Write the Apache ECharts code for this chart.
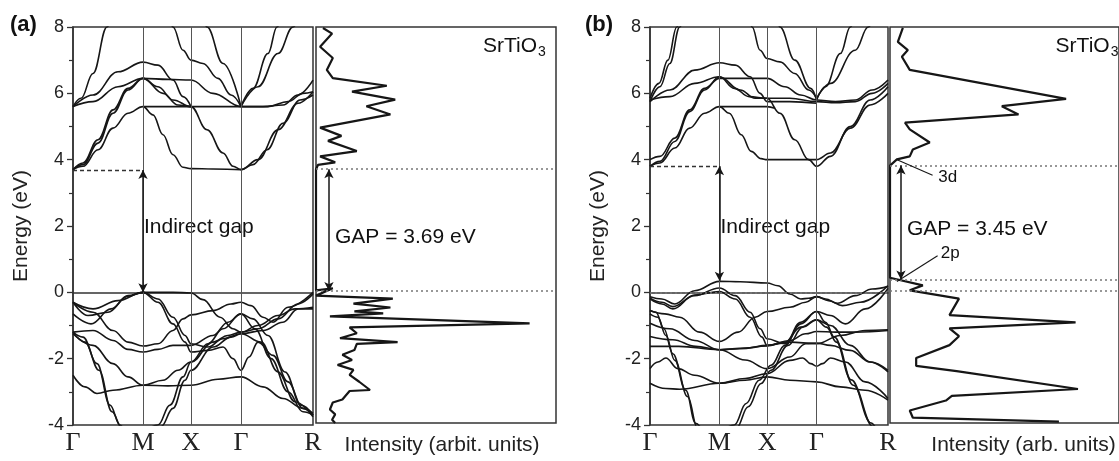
<!DOCTYPE html>
<html>
<head>
<meta charset="utf-8">
<script src="https://cdn.jsdelivr.net/npm/echarts@6/dist/echarts.min.js"></script>
<style>
  html, body { margin: 0; padding: 0; background: #ffffff; }
  #chart { width: 1119px; height: 461px; }
</style>
</head>
<body>
<div id="chart"></div>
<script>
// k-path positions of the high-symmetry points and their labels
const kPoints = [0, 70, 118, 168, 240];
const kLabels = ['Γ', 'M', 'X', 'Γ', 'R'];
const energyMin = -4, energyMax = 8, energyStep = 2;

// band edges (eV)
const vbmA = 0.00, cbmA = 3.69;
const vbmB = 0.35, cbmB = 3.80;

// (a) conduction bands: [k, E]
const bandsACond = [
  [[0,3.7],[10,3.8],[25,4.3],[40,4.95],[55,5.4],[70,5.6],[80,5.35],[90,4.75],[100,4.15],[110,3.77],[118,3.73],[140,3.72],[168,3.7],[180,3.85],[194,4.3],[210,5.1],[227,5.8],[240,5.95]],
  [[0,3.7],[10,3.85],[25,4.5],[40,5.4],[55,6.1],[70,6.45],[85,6.2],[100,5.8],[118,5.6],[134,4.9],[150,4.2],[160,3.8],[168,3.7],[185,4.0],[205,4.9],[225,5.7],[240,6.05]],
  [[0,3.7],[10,3.9],[25,4.6],[40,5.5],[55,6.15],[70,6.45],[95,6.42],[118,6.4],[140,6.0],[168,5.6],[190,5.6],[210,5.65],[225,5.95],[240,6.4]],
  [[0,5.6],[20,5.75],[45,6.2],[70,6.45],[90,6.0],[105,5.65],[118,5.6],[140,5.6],[168,5.6],[195,5.6],[215,5.75],[230,6.0],[240,6.05]],
  [[0,5.6],[20,5.95],[45,6.65],[70,6.94],[85,6.85],[100,6.4],[110,5.9],[118,5.6]],
  [[70,5.6],[95,5.6],[118,5.6]],
  [[0,5.6],[8,5.85],[20,6.6],[34,8.0],[40,8.5]],
  [[95,8.5],[100,8.0],[110,7.3],[118,7.0],[130,6.9],[145,6.45],[158,5.95],[168,5.6]],
  [[130,8.3],[134,8.0],[150,6.9],[168,5.6]],
  [[168,5.6],[180,6.15],[195,7.2],[204,8.0],[210,8.5]],
  [[168,5.6],[185,6.2],[205,7.2],[220,8.0],[228,8.5]]
];

// (a) valence bands: [k, E]
const bandsAVal = [
  [[0,-0.3],[20,-0.5],[45,-0.25],[70,0],[100,0],[118,-0.02],[130,-0.22],[147,-0.75],[160,-1.1],[168,-1.2],[185,-1.0],[205,-0.7],[222,-0.5],[240,-0.45]],
  [[0,-0.65],[18,-0.95],[38,-0.5],[55,-0.1],[70,0],[85,-0.2],[100,-0.75],[112,-1.3],[118,-1.55],[135,-1.65],[150,-1.4],[168,-1.25],[190,-1.15],[210,-0.9],[225,-0.5],[240,-0.5]],
  [[0,-0.3],[15,-0.7],[35,-0.6],[55,-0.12],[70,0],[85,-0.3],[100,-0.95],[112,-1.5],[118,-1.8],[135,-1.75],[150,-1.65],[160,-2.0],[168,-2.35],[176,-1.95],[185,-1.5],[200,-1.9],[215,-2.7],[230,-3.5],[240,-3.7]],
  [[0,-0.3],[20,-0.6],[40,-1.15],[55,-1.5],[70,-1.62],[85,-1.55],[100,-1.15],[110,-0.8],[118,-0.68],[140,-0.55],[158,-0.35],[168,-0.3],[178,-0.4],[190,-0.75],[200,-0.9],[215,-0.45],[240,0]],
  [[0,-1.2],[20,-1.15],[40,-1.45],[55,-1.72],[70,-1.8],[85,-1.72],[100,-1.6],[118,-1.6],[140,-1.3],[155,-0.9],[168,-0.65],[180,-0.8],[195,-1.3],[212,-2.4],[228,-3.4],[240,-3.7]],
  [[0,-1.2],[10,-1.35],[24,-2.15],[37,-3.4],[47,-4.0],[58,-4.5],[85,-4.0],[97,-3.4],[110,-2.55],[118,-2.1],[135,-1.55],[150,-1.1],[168,-0.65],[182,-1.1],[198,-2.0],[215,-3.0],[230,-3.6],[240,-3.7]],
  [[0,-1.2],[12,-1.5],[26,-2.35],[39,-3.6],[49,-4.1],[60,-4.6],[88,-4.05],[100,-3.5],[112,-2.65],[118,-2.35],[140,-1.65],[158,-1.35],[168,-1.25],[188,-1.5],[205,-2.4],[222,-3.3],[240,-3.75]],
  [[0,-2.5],[12,-2.85],[24,-3.05],[40,-2.95],[70,-2.8],[95,-2.82],[118,-2.8],[145,-2.62],[168,-2.55],[190,-2.85],[210,-3.2],[230,-3.5],[240,-3.65]],
  [[0,-1.25],[20,-1.6],[40,-2.15],[55,-2.55],[70,-2.8],[90,-2.65],[105,-2.35],[118,-2.1],[140,-1.5],[155,-1.3],[168,-1.2],[185,-1.1],[205,-0.8],[225,-0.35],[240,-0.05]]
];

// (b) conduction bands: [k, E]
const bandsBCond = [
  [[0,3.8],[10,3.9],[25,4.35],[40,4.95],[55,5.4],[70,5.6],[80,5.4],[92,4.75],[102,4.25],[112,4.03],[118,4.0],[140,4.0],[168,4.0],[182,4.2],[202,4.95],[222,5.65],[240,6.0]],
  [[0,3.8],[10,3.95],[25,4.55],[40,5.45],[55,6.1],[70,6.5],[85,6.15],[100,5.9],[118,5.85],[131,5.4],[146,4.6],[160,4.0],[168,3.8],[182,4.1],[202,5.0],[222,5.8],[240,6.2]],
  [[0,4.0],[10,4.1],[25,4.65],[40,5.5],[55,6.15],[70,6.45],[91,6.45],[118,6.45],[136,6.2],[152,5.95],[168,5.8],[187,5.75],[207,5.8],[224,6.1],[240,6.4]],
  [[0,5.8],[20,5.9],[45,6.3],[70,6.5],[91,6.1],[106,5.85],[118,5.85],[141,5.85],[168,5.75],[187,5.72],[207,5.75],[224,6.0],[240,6.3]],
  [[0,5.75],[20,6.1],[45,6.7],[70,6.92],[86,6.85],[101,6.5],[111,6.0],[118,5.75],[141,5.75],[168,5.7]],
  [[70,5.6],[96,5.6],[118,5.6],[126,5.55]],
  [[0,5.75],[10,6.2],[20,6.9],[30,8.0],[36,8.6]],
  [[0,5.85],[9,6.3],[18,7.0],[27,8.0],[33,8.6]],
  [[98,8.6],[103,8.0],[111,7.3],[118,7.05],[131,6.95],[146,6.6],[160,6.1],[168,5.85]],
  [[126,8.6],[131,8.0],[146,7.0],[162,6.15],[168,5.8]],
  [[168,5.8],[177,6.2],[192,7.2],[202,8.0],[208,8.5]],
  [[168,5.85],[182,6.3],[207,7.3],[220,8.0],[228,8.5]]
];

// (b) valence bands: [k, E]
const bandsBVal = [
  [[0,-0.13],[12,-0.2],[25,-0.35],[45,0.05],[70,0.33],[91,0.32],[118,0.28],[129,0.2],[141,-0.05],[152,-0.2],[160,-0.18],[168,-0.13],[177,-0.2],[189,-0.33],[207,-0.1],[224,0.1],[240,0.18]],
  [[0,-0.18],[12,-0.3],[23,-0.43],[45,-0.1],[70,0.13],[86,-0.1],[101,-0.6],[111,-1.1],[118,-1.4],[136,-1.55],[152,-0.9],[168,-0.58],[182,-0.7],[197,-0.95],[217,-0.5],[240,0.12]],
  [[0,-0.2],[12,-0.35],[23,-0.5],[45,-0.08],[70,0.02],[86,-0.2],[101,-0.75],[113,-1.35],[118,-1.6],[141,-1.5],[168,-1.55],[192,-1.3],[217,-1.15],[240,-1.13]],
  [[0,-0.55],[15,-0.65],[30,-0.75],[50,-1.2],[70,-1.48],[89,-1.2],[106,-0.75],[118,-0.58],[141,-0.45],[157,-0.3],[168,-0.13],[180,-0.25],[194,-0.4],[212,-0.3],[240,0.2]],
  [[0,-0.93],[20,-1.1],[45,-1.45],[70,-1.73],[91,-1.7],[118,-1.62],[136,-1.5],[152,-1.05],[168,-0.83],[182,-1.0],[202,-1.6],[222,-2.1],[240,-2.35]],
  [[0,-1.33],[23,-1.43],[46,-1.63],[70,-1.73],[96,-1.68],[118,-1.6],[141,-1.45],[157,-1.25],[168,-1.18],[187,-1.2],[207,-1.2],[240,-1.15]],
  [[0,-1.63],[29,-1.63],[70,-1.73],[96,-2.04],[118,-2.3],[141,-1.95],[157,-1.55],[168,-1.53],[182,-1.6],[202,-1.75],[222,-2.1],[240,-2.4]],
  [[0,-0.55],[6,-0.6],[14,-1.1],[23,-1.85],[36,-2.95],[46,-3.95],[60,-4.4],[85,-4.0],[97,-3.35],[110,-2.65],[122,-2.2],[136,-1.6],[152,-0.95],[168,-0.58],[177,-0.9],[186,-1.35],[203,-2.64],[223,-3.94],[232,-4.4]],
  [[0,-0.65],[8,-0.75],[16,-1.3],[25,-2.05],[38,-3.15],[48,-4.1],[62,-4.5],[87,-4.1],[99,-3.45],[112,-2.75],[122,-2.35],[139,-1.6],[154,-1.05],[168,-0.83],[178,-1.05],[188,-1.5],[205,-2.8],[225,-4.05],[232,-4.4]],
  [[0,-2.3],[8,-2.1],[16,-1.98],[28,-2.3],[45,-2.5],[70,-2.74],[96,-2.6],[118,-2.45],[141,-2.05],[154,-1.98],[162,-2.15],[168,-2.23],[174,-2.15],[182,-1.98],[197,-2.1],[217,-2.7],[240,-3.2]],
  [[0,-2.74],[16,-2.9],[30,-2.92],[70,-2.74],[96,-2.65],[118,-2.55],[141,-2.65],[168,-2.7],[192,-2.85],[217,-2.95],[240,-3.25]]
];

// density of states: energy (eV) and intensity (arb. units)
const dosAEnergy = [7.97,7.8,7.4,7.06,6.7,6.45,6.22,6.04,5.8,5.6,5.35,4.95,4.7,4.55,4.24,4.08,4.03,3.9,3.82,3.69,0.02,0.08,-0.14,-0.23,-0.38,-0.5,-0.62,-0.68,-0.77,-0.98,-1.1,-1.28,-1.43,-1.55,-1.6,-1.79,-1.93,-2.09,-2.24,-2.39,-2.54,-2.75,-3.0,-3.03,-3.29,-3.38,-3.59,-3.74,-3.9,-4.0];
const dosAIntensity = [2.9,6.7,1.7,7,4.5,7,29.5,15,33,21,31,1.7,10.6,5,17,1.7,1,8,0.8,0,0,7,0,32,15.6,31,16,28,5.8,89,14,17,10,34,17,16,11,15,9,15.6,14,18,22.5,14,11,7,5.8,8,6.7,8];
const dosBEnergy = [7.97,7.55,7.3,7.1,6.7,5.82,5.6,5.35,5.1,4.9,4.5,4.29,4.08,3.99,3.8,0.4,0.17,0.02,-0.23,-0.73,-0.95,-1.13,-1.37,-1.64,-2.03,-2.27,-2.43,-2.97,-3.18,-3.32,-3.62,-3.84,-3.96];
const dosBIntensity = [5.4,3.3,7.5,5,8.3,74,47,54,6.3,8.3,16.7,9.6,8.3,2.9,0,0,13.8,8.3,29,25,78,25,29,25,11,11,28,79,26,23.5,8.3,9.6,71];

const FONT = 'Liberation Sans, Arial, sans-serif';
const INK = '#161616';
const TEXT = '#111111';

const zip = (xs, ys) => xs.map((x, i) => [x, ys[i]]);
const gapA = +(cbmA - vbmA).toFixed(2);
const gapB = +(cbmB - vbmB).toFixed(2);

function bandAxes(gridIndex) {
  return {
    x: {
      type: 'value', gridIndex, min: kPoints[0], max: kPoints[kPoints.length - 1],
      axisLine: { show: true, lineStyle: { color: '#333', width: 1.5 } },
      axisTick: { show: false },
      splitLine: { show: false },
      axisLabel: {
        customValues: kPoints,
        formatter: v => kLabels[kPoints.indexOf(v)] || '',
        fontFamily: 'Liberation Serif, Times New Roman, serif', fontSize: 26, color: '#222', margin: 5
      }
    },
    y: {
      type: 'value', gridIndex, min: energyMin, max: energyMax, interval: energyStep,
      name: 'Energy (eV)', nameLocation: 'middle', nameGap: 41,
      nameTextStyle: { fontFamily: FONT, fontSize: 21, color: '#222' },
      axisLine: { show: true, lineStyle: { color: '#333', width: 1.5 } },
      axisTick: { show: true, length: 6, lineStyle: { color: '#333', width: 1.3 } },
      minorTick: { show: true, splitNumber: 2, length: 4, lineStyle: { color: '#333', width: 1.2 } },
      splitLine: { show: false },
      axisLabel: { fontFamily: FONT, fontSize: 18, color: '#222', margin: 9 }
    }
  };
}

function dosAxes(gridIndex, xMax, label, shift) {
  return {
    x: {
      type: 'value', gridIndex, min: 0, max: xMax,
      axisLine: { show: false }, axisTick: { show: false }, axisLabel: { show: false }, splitLine: { show: false },
      name: label, nameLocation: 'middle', nameGap: 12,
      nameTextStyle: { fontFamily: FONT, fontSize: 21, color: '#222', padding: [0, 0, 0, shift] }
    },
    y: {
      type: 'value', gridIndex, min: energyMin, max: energyMax,
      axisLine: { show: false }, axisTick: { show: false }, axisLabel: { show: false }, splitLine: { show: false }
    }
  };
}

// both density panels share 2.4 px per intensity unit
const axA = bandAxes(0), dA = dosAxes(1, 100, 'Intensity (arbit. units)', 12);
const axB = bandAxes(2), dB = dosAxes(3, 96.25, 'Intensity (arb. units)', 38);

const series = [];

function addBands(bands, axisIndex) {
  bands.forEach(b => series.push({
    type: 'line', xAxisIndex: axisIndex, yAxisIndex: axisIndex, data: b,
    smooth: 0.4, smoothMonotone: 'x', symbol: 'none', silent: true, clip: true,
    lineStyle: { color: INK, width: 1.6 }, z: 3
  }));
}

function textSeries(axisIndex, points, fmt, fontSize, rich) {
  return {
    type: 'scatter', xAxisIndex: axisIndex, yAxisIndex: axisIndex, symbolSize: 0, silent: true, clip: false,
    itemStyle: { opacity: 1 }, data: points,
    label: { show: true, position: 'right', distance: 0, fontFamily: FONT, fontSize, color: TEXT, opacity: 1,
      formatter: fmt, rich: rich || {} }
  };
}

function symmetryLines(axisIndex, vbm, cbm, zeroDotted) {
  const lines = kPoints.slice(1, -1).map(k => ({ xAxis: k, lineStyle: { color: '#555', width: 1, type: 'solid' } }));
  const extra = [
    [{ coord: [kPoints[0], cbm], lineStyle: { color: '#333', width: 1.3, type: [4, 3] } }, { coord: [kPoints[1], cbm] }]
  ];
  if (zeroDotted) lines.push({ yAxis: 0, lineStyle: { color: '#777', width: 1.5, type: [2, 3] } });
  series.push({
    type: 'line', xAxisIndex: axisIndex, yAxisIndex: axisIndex, data: [], silent: true, z: 2,
    markLine: { silent: true, symbol: 'none', label: { show: false }, animation: false, data: lines.concat(extra) }
  });
  // indirect-gap arrow at M
  series.push({
    type: 'line', xAxisIndex: axisIndex, yAxisIndex: axisIndex, data: [], silent: true, z: 4,
    markLine: {
      silent: true, symbol: ['arrow', 'arrow'], symbolSize: [7, 9], label: { show: false }, animation: false,
      lineStyle: { color: INK, width: 1.5, type: 'solid' },
      data: [[{ coord: [kPoints[1], vbm] }, { coord: [kPoints[1], cbm] }]]
    }
  });
  series.push(textSeries(axisIndex, [[kPoints[1] + 1, 1.95]], 'Indirect gap', 21));
}

function dosPanel(axisIndex, energy, intensity, vbm, cbm, gap, arrowX, extraLevels) {
  const levels = [cbm, vbm].concat(extraLevels).map(e => ({ yAxis: e }));
  series.push({
    type: 'line', xAxisIndex: axisIndex, yAxisIndex: axisIndex, data: zip(intensity, energy),
    symbol: 'none', silent: true, clip: true, lineStyle: { color: INK, width: 2.2 }, z: 3,
    markLine: {
      silent: true, symbol: 'none', label: { show: false }, animation: false,
      lineStyle: { color: '#777', width: 1.5, type: [2, 3] }, data: levels
    }
  });
  series.push({
    type: 'line', xAxisIndex: axisIndex, yAxisIndex: axisIndex, data: [], silent: true, z: 4,
    markLine: {
      silent: true, symbol: ['arrow', 'arrow'], symbolSize: [7, 9], label: { show: false }, animation: false,
      lineStyle: { color: INK, width: 1.5, type: 'solid' },
      data: [[{ coord: [arrowX, vbm] }, { coord: [arrowX, cbm] }]]
    }
  });
  series.push(textSeries(axisIndex, [[arrowX + 2.5, (vbm + cbm) / 2 - 0.2]], `GAP = ${gap.toFixed(2)} eV`, 21));
  series.push(textSeries(axisIndex, [[69.6, 7.42]], '{m|SrTiO}{s|3}', 21, {
    m: { fontFamily: FONT, fontSize: 21, color: TEXT },
    s: { fontFamily: FONT, fontSize: 14, color: TEXT, padding: [12, 0, 0, 1] }
  }));
}

addBands(bandsACond, 0);
addBands(bandsAVal, 0);
symmetryLines(0, vbmA, cbmA, false);
dosPanel(1, dosAEnergy, dosAIntensity, vbmA, cbmA, gapA, 5.4, []);

addBands(bandsBCond, 2);
addBands(bandsBVal, 2);
symmetryLines(2, vbmB, cbmB, true);
dosPanel(3, dosBEnergy, dosBIntensity, vbmB, cbmB, gapB, 4.6, [0]);

// orbital labels with leader lines on the (b) density of states
const orbitalLabels = ['3d', '2p'];
const orbitalLeaders = [[[2.5, 3.99], [17.9, 3.51]], [[2.9, 0.29], [20.0, 1.07]]];
const orbitalTextPos = [[20.3, 3.45], [21.3, 1.13]];
orbitalLeaders.forEach(seg => series.push({
  type: 'line', xAxisIndex: 3, yAxisIndex: 3, data: seg, symbol: 'none', silent: true,
  lineStyle: { color: INK, width: 1.1 }, z: 5
}));
series.push(textSeries(3, orbitalTextPos, p => orbitalLabels[p.dataIndex], 17));

const gridBase = { show: true, top: 27, height: 398, borderColor: '#333', borderWidth: 1.5, backgroundColor: 'transparent' };

const option = {
  animation: false,
  backgroundColor: '#ffffff',
  grid: [
    Object.assign({ left: 73, width: 240 }, gridBase),
    Object.assign({ left: 316, width: 240 }, gridBase),
    Object.assign({ left: 650, width: 238 }, gridBase),
    Object.assign({ left: 890, right: -2 }, gridBase)
  ],
  xAxis: [axA.x, dA.x, axB.x, dB.x],
  yAxis: [axA.y, dA.y, axB.y, dB.y],
  graphic: [
    { type: 'text', left: 10, top: 14, style: { text: '(a)', fontFamily: FONT, fontWeight: 'bold', fontSize: 22, fill: '#111' } },
    { type: 'text', left: 585, top: 14, style: { text: '(b)', fontFamily: FONT, fontWeight: 'bold', fontSize: 22, fill: '#111' } }
  ],
  series
};

const chart = echarts.init(document.getElementById('chart'), null, { renderer: 'canvas' });
chart.setOption(option);
</script>
</body>
</html>
